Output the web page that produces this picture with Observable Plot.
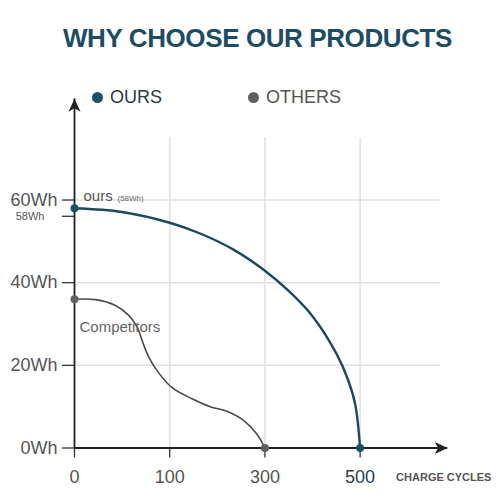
<!DOCTYPE html>
<html>
<head>
<meta charset="utf-8">
<script src="https://cdn.jsdelivr.net/npm/d3@7"></script>
<script src="https://cdn.jsdelivr.net/npm/@observablehq/plot@0.6"></script>
<style>
  body { margin: 0; background: #fff; font-family: "Liberation Sans", Arial, sans-serif; }
  #wrap { position: relative; width: 500px; height: 500px; overflow: hidden; }
  #title { height: 70px; box-sizing: border-box; padding: 25px 0 0 15px; text-align: center;
           font-size: 26px; line-height: 1; font-weight: bold; color: #1e4d63; letter-spacing: -0.4px; }
  .leg { position: absolute; top: 88px; height: 18px; font-size: 18px; line-height: 18px;
         display: flex; align-items: center; }
  .leg .d { width: 11px; height: 11px; border-radius: 50%; display: inline-block; margin-right: 7.5px; }
  #chart svg { display: block; }
</style>
</head>
<body>
<div id="wrap">
  <div id="title"></div>
  <div id="chart"></div>
</div>
<script>
// ---- data ----
const titleText = "WHY CHOOSE OUR PRODUCTS";
const seriesNames = ["OURS", "OTHERS"];
const seriesColors = ["#1c4f68", "#606060"];
const legendTextColors = ["#2b3a44", "#555555"];
const lineColors = ["#1b4a60", "#4a4a4a"];

const xTicks = [0, 100, 300, 500];
const xDomain = [0, 100, 300, 500, 700];
const yTicks = [0, 20, 40, 60];
const yTickLabels = ["0Wh", "20Wh", "40Wh", "60Wh"];
const yMarkTick = [58];
const yMarkLabel = ["58Wh"];
const xAxisTitle = "CHARGE CYCLES";

const oursCycles = [0, 50, 100, 164, 234, 300, 350, 400, 450, 475, 490, 500];
const oursWh     = [58, 57.1, 54.5, 51.9, 48.0, 42.9, 38.0, 31.9, 22.9, 16.4, 10.4, 0];
const othersCycles = [0, 22, 43, 57, 66, 71, 78, 88, 105, 147, 185, 220, 255, 283, 300];
const othersWh     = [36, 35.9, 34.5, 32.1, 29.2, 26, 22, 18.3, 14.6, 11.9, 10, 8.9, 6.7, 3.4, 0];

const oursLabel = "ours";
const oursNote = "(58Wh)";
const othersLabel = "Competitors";

const yMax = 85;
const xAxisEnd = 684;
const yAxisEnd = 84.5;
const gridXEnd = 668;
const gridYEnd = 75;

// ---- build ----
document.getElementById("title").textContent = titleText;
const wrap = document.getElementById("wrap");
const legendLefts = [91.5, 247.5];
seriesNames.forEach((name, i) => {
  const el = document.createElement("div");
  el.className = "leg";
  el.style.left = legendLefts[i] + "px";
  el.style.color = legendTextColors[i];
  el.innerHTML = `<span class="d" style="background:${seriesColors[i]}"></span><span>${name}</span>`;
  wrap.appendChild(el);
});

const ours = oursCycles.map((c, i) => ({x: c, y: oursWh[i]}));
const others = othersCycles.map((c, i) => ({x: c, y: othersWh[i]}));
const oursEnds = [ours[0], ours[ours.length - 1]];
const othersEnds = [others[0], others[others.length - 1]];

const arrowUp = { draw(ctx) { ctx.moveTo(0, 0); ctx.lineTo(6, 13); ctx.lineTo(0, 9.5); ctx.lineTo(-6, 13); ctx.closePath(); } };
const arrowRight = { draw(ctx) { ctx.moveTo(0, 0); ctx.lineTo(-13, -6); ctx.lineTo(-9.5, 0); ctx.lineTo(-13, 6); ctx.closePath(); } };

const chart = Plot.plot({
  width: 500,
  height: 430,
  marginLeft: 74,
  marginRight: 45.2,
  marginTop: 26.2,
  marginBottom: 52.5,
  style: { fontFamily: "Liberation Sans, Arial, sans-serif", background: "transparent", overflow: "visible" },
  x: { type: "linear", domain: xDomain },
  y: { domain: [0, yMax] },
  marks: [
    Plot.ruleY(yTicks.slice(1), { x1: 0, x2: gridXEnd, stroke: "#e0e0e0", strokeWidth: 1.5 }),
    Plot.ruleX(xTicks.slice(1), { y1: 0, y2: gridYEnd, stroke: "#e0e0e0", strokeWidth: 1.5 }),
    Plot.axisX({ ticks: xTicks, tickSize: 10, tickPadding: 12, fontSize: 18, fill: d => (d === 500 ? "#2b3f4c" : "#555"), stroke: "#333", strokeWidth: 1.3, label: null, tickFormat: d => String(d) }),
    Plot.axisY({ ticks: yTicks, tickSize: 12, tickPadding: 5, fontSize: 18, fill: "#555", stroke: "#333", strokeWidth: 1.3, label: null, tickFormat: d => yTickLabels[yTicks.indexOf(d)] }),
    Plot.axisY({ ticks: yMarkTick, tickSize: 12, tickPadding: 18, fontSize: 11, dy: 8, fill: "#555", stroke: "#333", strokeWidth: 1.3, label: null, tickFormat: d => yMarkLabel[yMarkTick.indexOf(d)] }),
    Plot.ruleY([0], { x1: 0, x2: xAxisEnd, stroke: "#222", strokeWidth: 1.8 }),
    Plot.ruleX([0], { y1: 0, y2: yAxisEnd, stroke: "#222", strokeWidth: 1.8 }),
    Plot.dot([{x: 0, y: yAxisEnd}], { x: "x", y: "y", symbol: arrowUp, fill: "#222", stroke: "none" }),
    Plot.dot([{x: xAxisEnd, y: 0}], { x: "x", y: "y", symbol: arrowRight, fill: "#222", stroke: "none" }),
    Plot.line(others, { x: "x", y: "y", curve: "catmull-rom", stroke: lineColors[1], strokeWidth: 1.6 }),
    Plot.line(ours, { x: "x", y: "y", curve: "catmull-rom", stroke: lineColors[0], strokeWidth: 2.4 }),
    Plot.dot(othersEnds, { x: "x", y: "y", r: 4, fill: seriesColors[1], stroke: "none" }),
    Plot.dot(oursEnds, { x: "x", y: "y", r: 4, fill: seriesColors[0], stroke: "none" }),
    Plot.text([ours[0]], { x: "x", y: "y", text: () => oursLabel, dx: 9, dy: -12, textAnchor: "start", fontSize: 15, fill: "#555" }),
    Plot.text([ours[0]], { x: "x", y: "y", text: () => oursNote, dx: 43, dy: -10, textAnchor: "start", fontSize: 8, fill: "#666" }),
    Plot.text([others[0]], { x: "x", y: "y", text: () => othersLabel, dx: 5, dy: 28, textAnchor: "start", fontSize: 15, fill: "#666" }),
    Plot.text([ours[ours.length - 1]], { x: "x", y: "y", text: () => xAxisTitle, dx: 36, dy: 29, textAnchor: "start", fontSize: 11, fontWeight: "bold", fill: "#555" })
  ]
});
document.getElementById("chart").appendChild(chart);
</script>
</body>
</html>
